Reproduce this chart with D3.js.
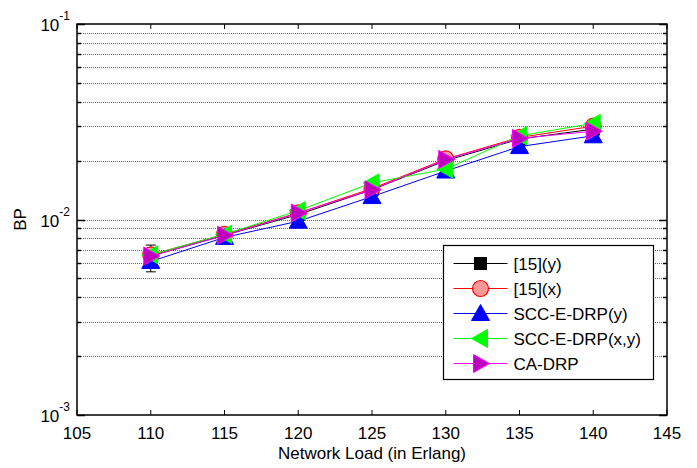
<!DOCTYPE html>
<html>
<head>
<meta charset="utf-8">
<script src="https://cdn.jsdelivr.net/npm/d3@7"></script>
<style>
  body { margin: 0; background: #fff; }
  text { font-family: "Liberation Sans", Arial, sans-serif; fill: #000; }
</style>
</head>
<body>
<div id="chart"></div>
<script>
// network load values
let loads = [110, 115, 120, 125, 130, 135, 140];

let bp15y   = [0.0065, 0.0083, 0.0106, 0.0142, 0.0200, 0.0258, 0.0290];
let bp15x   = [0.0066, 0.0084, 0.0108, 0.0144, 0.0204, 0.0263, 0.0300];
let bpSccY  = [0.0061, 0.0081, 0.0098, 0.0131, 0.0177, 0.0236, 0.0268];
let bpSccXY = [0.0066, 0.0084, 0.0111, 0.0154, 0.0181, 0.0268, 0.0310];
let bpCa    = [0.0065, 0.0083, 0.0108, 0.0142, 0.0203, 0.0260, 0.0283];

// error bar seen at 110 only
let errLoad = 110, errLow = 0.0054, errHigh = 0.0074;

let xTicks = [105, 110, 115, 120, 125, 130, 135, 140, 145];
let yDecades = [-3, -2, -1];

let series = [
  {name: '[15](y)',         values: bp15y,   stroke: '#000000', fill: '#000000', edge: '#000000', shape: 'square'},
  {name: '[15](x)',         values: bp15x,   stroke: '#ff0000', fill: '#ff9999', edge: '#ff0000', shape: 'circle'},
  {name: 'SCC-E-DRP(y)',    values: bpSccY,  stroke: '#0000ff', fill: '#0000ff', edge: '#0000ff', shape: 'up'},
  {name: 'SCC-E-DRP(x,y)',  values: bpSccXY, stroke: '#00ff00', fill: '#00ff00', edge: '#00ff00', shape: 'left'},
  {name: 'CA-DRP',          values: bpCa,    stroke: '#ff00ff', fill: '#bf00bf', edge: '#ff00ff', shape: 'right'}
];

const W = 697, H = 468;
const margin = ({top: 24, right: 30, bottom: 53, left: 77});
const fs = '17px';

let x = d3.scaleLinear().domain([105, 145]).range([margin.left, W - margin.right]);
let y = d3.scaleLog().domain([0.001, 0.1]).range([H - margin.bottom, margin.top]);
let py = v => Math.round(y(v)) + 0.5;

let svg = d3.select('#chart').append('svg')
  .attr('width', W).attr('height', H);

// minor + major grid values
let gridVals = [];
[0.001, 0.01].forEach(d => { for (let k = 1; k < 10; k++) gridVals.push(d * k); });
gridVals.push(0.1);

let grid = svg.append('g');
grid.selectAll('line.hg')
  .data(gridVals.filter(v => v > 0.0011 && v < 0.099))
  .enter().append('line')
  .attr('x1', x(105)).attr('x2', x(145))
  .attr('y1', d => py(d)).attr('y2', d => py(d))
  .attr('stroke', '#666').attr('stroke-width', 1)
  .attr('stroke-dasharray', '1,1');

// axes box
let x0 = x(105), x1 = x(145), y0 = y(0.001), y1 = y(0.1);
svg.append('rect')
  .attr('x', x0).attr('y', y1).attr('width', x1 - x0).attr('height', y0 - y1)
  .attr('fill', 'none').attr('stroke', '#000').attr('stroke-width', 1.5);

// y ticks inside, left and right
let yt = svg.append('g');
gridVals.forEach(v => {
  let len = (Math.abs(Math.log10(v) - Math.round(Math.log10(v))) < 1e-9) ? 8 : 4;
  yt.append('line').attr('x1', x0).attr('x2', x0 + len).attr('y1', py(v)).attr('y2', py(v))
    .attr('stroke', '#000').attr('stroke-width', 1.5);
  yt.append('line').attr('x1', x1).attr('x2', x1 - len).attr('y1', py(v)).attr('y2', py(v))
    .attr('stroke', '#000').attr('stroke-width', 1.5);
});

// x ticks inside, top and bottom
let xt = svg.append('g');
xTicks.forEach(t => {
  xt.append('line').attr('x1', x(t)).attr('x2', x(t)).attr('y1', y0).attr('y2', y0 - 5)
    .attr('stroke', '#000');
  xt.append('line').attr('x1', x(t)).attr('x2', x(t)).attr('y1', y1).attr('y2', y1 + 5)
    .attr('stroke', '#000');
  svg.append('text')
    .attr('x', x(t)).attr('y', y0 + 24)
    .attr('text-anchor', 'middle')
    .style('font-size', fs)
    .text(t);
});

// y decade labels with superscript
yDecades.forEach(e => {
  let g = svg.append('text')
    .attr('x', x0 - 7).attr('y', y(Math.pow(10, e)) + 7)
    .attr('text-anchor', 'end')
    .style('font-size', fs);
  g.append('tspan').text('10');
  g.append('tspan').attr('dy', -11).style('font-size', '12px').text(String(e));
});

// axis labels
svg.append('text')
  .attr('x', (x0 + x1) / 2).attr('y', H - 9)
  .attr('text-anchor', 'middle')
  .style('font-size', fs)
  .text('Network Load (in Erlang)');

svg.append('text')
  .attr('transform', `translate(26,${(y0 + y1) / 2}) rotate(-90)`)
  .attr('text-anchor', 'middle')
  .style('font-size', fs)
  .text('BP');

// error bar
let eg = svg.append('g');
eg.append('line').attr('x1', x(errLoad)).attr('x2', x(errLoad))
  .attr('y1', y(errLow)).attr('y2', y(errHigh)).attr('stroke', '#000');
[errLow, errHigh].forEach(v => {
  eg.append('line').attr('x1', x(errLoad) - 5).attr('x2', x(errLoad) + 5)
    .attr('y1', y(v)).attr('y2', y(v)).attr('stroke', '#000');
});

function markerPath(shape) {
  if (shape === 'up') return 'M0,-9L9,7L-9,7Z';
  if (shape === 'left') return 'M-9,0L7,-9L7,9Z';
  if (shape === 'right') return 'M9,0L-7,-9L-7,9Z';
  return null;
}

function drawMarker(g, s, cx, cy) {
  if (s.shape === 'square') {
    g.append('rect').attr('x', cx - 6).attr('y', cy - 6).attr('width', 12).attr('height', 12)
      .attr('fill', s.fill).attr('stroke', s.edge);
  } else if (s.shape === 'circle') {
    g.append('circle').attr('cx', cx).attr('cy', cy).attr('r', 8)
      .attr('fill', s.fill).attr('stroke', s.edge).attr('stroke-width', 1.2);
  } else {
    g.append('path').attr('d', markerPath(s.shape))
      .attr('transform', `translate(${cx},${cy})`)
      .attr('fill', s.fill).attr('stroke', s.edge);
  }
}

let line = d3.line().x((d, i) => x(loads[i])).y(d => y(d));

series.forEach(s => {
  let g = svg.append('g');
  g.append('path').datum(s.values)
    .attr('d', line).attr('fill', 'none')
    .attr('stroke', s.stroke).attr('stroke-width', 1);
  s.values.forEach((v, i) => drawMarker(g, s, x(loads[i]), y(v)));
});

// legend
let lg = svg.append('g').attr('transform', 'translate(443.5,245.5)');
lg.append('rect').attr('width', 210).attr('height', 134)
  .attr('fill', '#fff').attr('stroke', '#000').attr('stroke-width', 1.2);
series.forEach((s, i) => {
  let cy = 18 + i * 25;
  lg.append('line').attr('x1', 10).attr('x2', 64).attr('y1', cy).attr('y2', cy)
    .attr('stroke', s.stroke);
  drawMarker(lg, s, 37, cy);
  lg.append('text').attr('x', 70).attr('y', cy + 6)
    .style('font-size', fs).text(s.name);
});
</script>
</body>
</html>
